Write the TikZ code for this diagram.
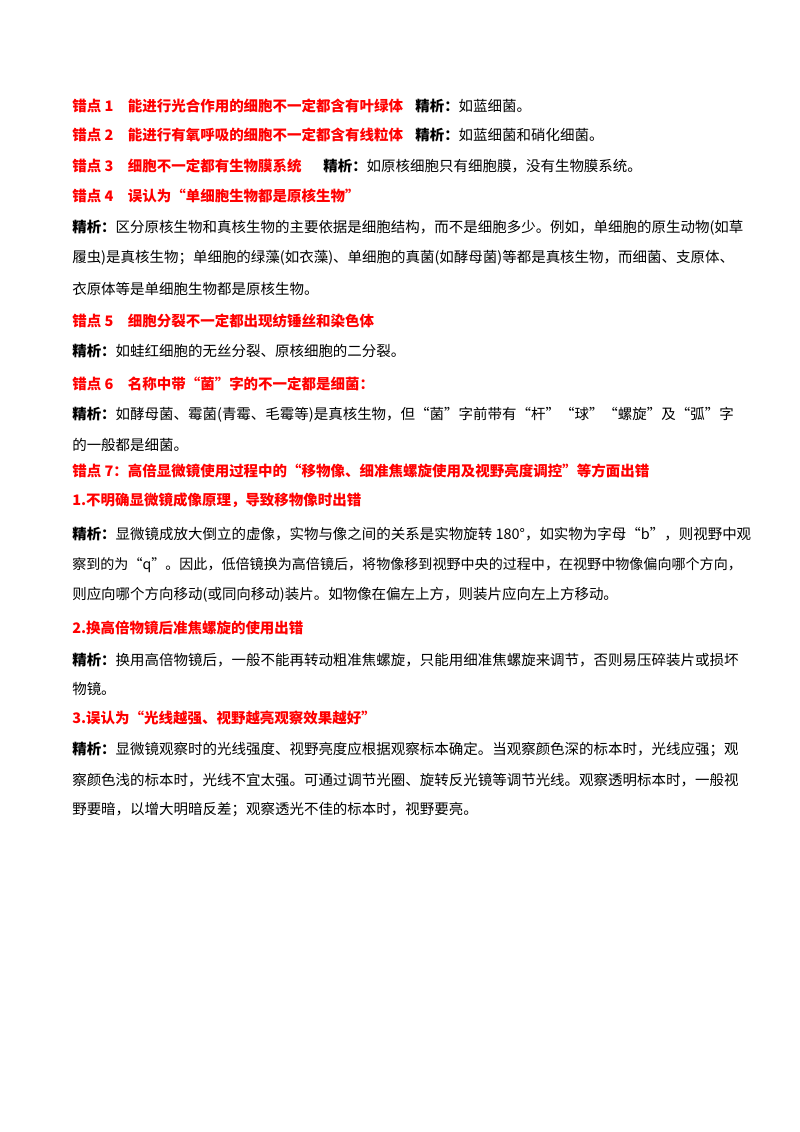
\documentclass[tikz,border=0pt]{standalone}
\usepackage{fontspec}
\setmainfont{Liberation Serif}
\newfontfamily\cjk{Noto Sans CJK SC}
\usetikzlibrary{positioning}
\definecolor{errred}{RGB}{255,0,0}
\tikzset{
  txt/.style={anchor=west, inner sep=0pt, font=\cjk\fontsize{10.3}{12}\selectfont},
  head/.style={txt, text=errred, font=\cjk\bfseries\fontsize{10.3}{12}\selectfont},
}
\newcommand{\jx}{{\bfseries 精析：}}
\begin{document}
\begin{tikzpicture}[x=0.025cm, y=-0.025cm]
  \useasboundingbox (0,0) rectangle (800,1132);
  % Errors 1 to 3, one line each
  \node[head] (h1) at (72,106) {错点 1\quad 能进行光合作用的细胞不一定都含有叶绿体};
  \node[txt] (a1) at (415,106) {\jx 如蓝细菌。};
  \node[head] (h2) at (72,135) {错点 2\quad 能进行有氧呼吸的细胞不一定都含有线粒体};
  \node[txt] (a2) at (415,135) {\jx 如蓝细菌和硝化细菌。};
  \node[head] (h3) at (72,166) {错点 3\quad 细胞不一定都有生物膜系统};
  \node[txt] (a3) at (323,166) {\jx 如原核细胞只有细胞膜，没有生物膜系统。};
  % Error 4
  \node[head] (h4) at (72,196) {错点 4\quad 误认为“单细胞生物都是原核生物”};
  \node[txt] (l1) at (72,228) {\jx 区分原核生物和真核生物的主要依据是细胞结构，而不是细胞多少。例如，单细胞的原生动物(如草};
  \node[txt] (l2) at (72,258) {履虫)是真核生物；单细胞的绿藻(如衣藻)、单细胞的真菌(如酵母菌)等都是真核生物，而细菌、支原体、};
  \node[txt] (l3) at (72,289) {衣原体等是单细胞生物都是原核生物。};
  % Error 5
  \node[head] (h5) at (72,321) {错点 5\quad 细胞分裂不一定都出现纺锤丝和染色体};
  \node[txt] (l4) at (72,351) {\jx 如蛙红细胞的无丝分裂、原核细胞的二分裂。};
  % Error 6
  \node[head] (h6) at (72,384) {错点 6\quad 名称中带“菌”字的不一定都是细菌：};
  \node[txt] (l5) at (72,415) {\jx 如酵母菌、霉菌(青霉、毛霉等)是真核生物，但“菌”字前带有“杆”“球”“螺旋”及“弧”字};
  \node[txt] (l6) at (72,445) {的一般都是细菌。};
  % Error 7
  \node[head] (h7) at (72,471) {错点 7：高倍显微镜使用过程中的“移物像、细准焦螺旋使用及视野亮度调控”等方面出错};
  \node[head] (s1) at (72,500) {1.不明确显微镜成像原理，导致移物像时出错};
  \node[txt] (l7) at (72,534) {\jx 显微镜成放大倒立的虚像，实物与像之间的关系是实物旋转 180°，如实物为字母“b”，则视野中观};
  \node[txt] (l8) at (72,565) {\fontsize{10}{12}\selectfont 察到的为“q”。因此，低倍镜换为高倍镜后，将物像移到视野中央的过程中，在视野中物像偏向哪个方向，};
  \node[txt] (l9) at (72,595) {则应向哪个方向移动(或同向移动)装片。如物像在偏左上方，则装片应向左上方移动。};
  \node[head] (s2) at (72,628) {2.换高倍物镜后准焦螺旋的使用出错};
  \node[txt] (l10) at (72,660) {\jx 换用高倍物镜后，一般不能再转动粗准焦螺旋，只能用细准焦螺旋来调节，否则易压碎装片或损坏};
  \node[txt] (l11) at (72,689) {物镜。};
  \node[head] (s3) at (72,718) {3.误认为“光线越强、视野越亮观察效果越好”};
  \node[txt] (l12) at (72,749) {\jx 显微镜观察时的光线强度、视野亮度应根据观察标本确定。当观察颜色深的标本时，光线应强；观};
  \node[txt] (l13) at (72,780) {察颜色浅的标本时，光线不宜太强。可通过调节光圈、旋转反光镜等调节光线。观察透明标本时，一般视};
  \node[txt] (l14) at (72,810) {野要暗，以增大明暗反差；观察透光不佳的标本时，视野要亮。};
\end{tikzpicture}
\end{document}
